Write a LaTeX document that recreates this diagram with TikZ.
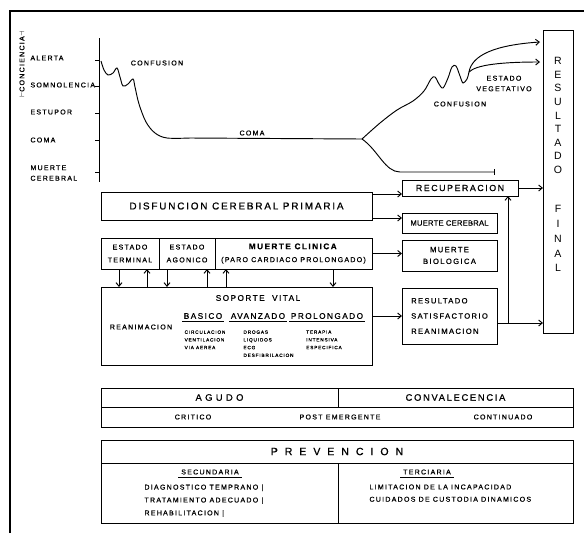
\documentclass[tikz,border=0pt]{standalone}
\usepackage{fontspec}
\setmainfont{Liberation Sans}
\newfontfamily\lab[LetterSpace=18,FakeBold=0.8]{Liberation Sans}
\newfontfamily\labtight[LetterSpace=3,FakeBold=0.8]{Liberation Sans}
\newfontfamily\labwide[LetterSpace=36,FakeBold=0.8]{Liberation Sans}
\newfontfamily\labhuge[LetterSpace=66,FakeBold=0.8]{Liberation Sans}
\usetikzlibrary{arrows.meta}
\newcommand{\pxu}{0.3mm}
\newcommand{\setpt}[2]{\fontsize{#1}{#2}\selectfont}

\begin{document}
\begin{tikzpicture}[x=\pxu,y=-\pxu,line width=0.8pt,
  >={Straight Barb[length=1.1mm,width=1.8mm]},
  cell/.style 2 args={draw,minimum width=#1*\pxu,minimum height=#2*\pxu,
    inner sep=0pt,outer sep=0pt},
  tag/.style={inner sep=0pt,font=\lab\setpt{6}{11}},
  mini/.style={inner sep=0pt,font=\lab\setpt{4}{6.6}},
  head/.style={inner sep=0pt,font=\lab\setpt{7}{9}}]
  \useasboundingbox (0,0) rectangle (584,533);
  % frame
  \draw[line width=1.2pt] (10,533) -- (10,11) -- (584,11);
  % conciencia axis
  \draw (99,38) -- (99,182);
  \foreach \y in {60,86,113,140,172}
    \draw (95,\y) -- (99,\y);
  \foreach \y/\t in {58/ALERTA,85/SOMNOLENCIA,112/ESTUPOR,140/COMA}
    \node[tag,anchor=west] (lv\y) at (30,\y) {\t};
  \node[tag,anchor=west,align=left,font=\lab\setpt{6}{9}] (lvmc) at (30,173) {MUERTE\\CEREBRAL};
  \node[tag,rotate=90] (conc) at (22,64) {$\vdash$CONCIENCIA$\dashv$};
  % curve
  \coordinate (split) at (362,139);
  \coordinate (fork) at (469,72);
  \draw plot[smooth,tension=0.55] coordinates {(101,61) (104,70) (108,75) (113,73)
    (117,68) (120,77) (123,86) (128,84) (133,79) (135,87) (139,104) (146,122)
    (155,133) (167,138) (190,138)} -- (split);
  \draw plot[smooth,tension=0.55] coordinates {(split) (380,123) (397,110) (413,101)
    (424,91) (431,79) (435,77) (439,84) (443,88) (448,78) (452,67) (456,66)
    (460,76) (463,83) (467,79) (fork)};
  \draw[->] (fork) .. controls (472,55) and (495,45) .. (540,42);
  \draw[->] (fork) .. controls (476,65) and (500,62) .. (540,62);
  \draw[-{Bar[width=1.6mm]}] (split) .. controls (378,150) and (385,172) .. (400,172) -- (495,172);
  \node[tag] (conf1) at (157,63) {CONFUSION};
  \node[tag] (coma) at (252,133) {COMA};
  \node[tag] (conf2) at (460,104) {CONFUSION};
  \node[tag,align=center,font=\lab\setpt{6}{9}] (veg) at (504,83.5) {ESTADO\\VEGETATIVO};
  % left column
  \node[cell={271}{28}] (disf) at (236.5,206) {\lab\setpt{8.5}{10}DISFUNCION CEREBRAL PRIMARIA};
  \node[cell={58}{31},align=center,font=\lab\setpt{6}{11}] (eterm) at (130,253.5) {ESTADO\\TERMINAL};
  \node[cell={56}{31},align=center,font=\lab\setpt{6}{11}] (eagon) at (187,253.5) {ESTADO\\AGONICO};
  \node[cell={157}{31},align=center,font=\lab\setpt{6}{11}] (mclin) at (293.5,253.5)
    {\textbf{\setpt{7}{11}MUERTE CLINICA}\\(PARO CARDIACO PROLONGADO)};
  \node[cell={271}{78}] (sopor) at (236.5,326) {};
  \node[head] (sv) at (258,298) {SOPORTE\ \ VITAL};
  \node[tag] (rean) at (141,327) {REANIMACION};
  \foreach \n/\x/\t in {bas/203/BASICO,avz/258/AVANZADO,prol/327/PROLONGADO}{
    \node[head] (\n) at (\x,316) {\t};
    \draw ([xshift=-1pt,yshift=-2pt]\n.south west) -- ([xshift=1pt,yshift=-2pt]\n.south east);
  }
  \node[mini,align=left,anchor=north] (basd) at (205,330) {CIRCULACION\\VENTILACION\\VIA AEREA};
  \node[mini,align=left,anchor=north west] (avzd) at (243,330) {DROGAS\\LIQUIDOS\\ECG\\DESFIBRILACION};
  \node[mini,align=left,anchor=north] (prold) at (324,330) {TERAPIA\\INTENSIVA\\ESPECIFICA};
  % vertical arrows
  \foreach \n/\dx/\tip in {eterm/-11/->,eterm/17/<-,eagon/-20/->,eagon/20/<-,mclin/-67.5/<-,mclin/39.5/->}{
    \coordinate (v) at ([xshift=\dx*\pxu]\n.south);
    \draw[\tip] (v) -- (v |- sopor.north);
  }
  % right column
  \node[cell={116}{16}] (recup) at (460,188) {\lab\setpt{7.5}{9}RECUPERACION};
  \node[cell={95}{20}] (mcer) at (449.5,223) {\labtight\setpt{6.5}{8}MUERTE CEREBRAL};
  \node[cell={95}{31},align=center,font=\lab\setpt{6.5}{10}] (mbio) at (449.5,255.5) {MUERTE\\BIOLOGICA};
  \node[cell={95}{56},align=left,font=\lab\setpt{6.5}{13}] (resat) at (449.5,316) {RESULTADO\\SATISFACTORIO\\REANIMACION};
  \node[cell={30}{303}] (final) at (558,181.5) {};
  \foreach \c [count=\i] in {R,E,S,U,L,T,A,D,O}
    \node[inner sep=0pt,font=\setpt{9}{9}] (fr\i) at (558,{61+(\i-1)*13.6}) {\c};
  \foreach \c [count=\i] in {F,I,N,A,L}
    \node[inner sep=0pt,font=\setpt{9}{9}] (ff\i) at (558,{209+(\i-1)*14.8}) {\c};
  % connectors
  \coordinate (d1) at ([yshift=-0.6mm]disf.north east);
  \coordinate (d2) at ([yshift=0.6mm]disf.south east);
  \draw[->] (d1) -- (d1 -| recup.west);
  \draw[->] (d2) -- (d2 -| mcer.west);
  \draw[->] (mclin.east) -- (mclin.east -| mbio.west);
  \draw[->] (resat.west -| sopor.east) -- (resat.west);
  \draw[->] (recup.east) -- (recup.east -| final.west);
  \coordinate (r1) at ([yshift=-2.1mm]resat.east);
  \coordinate (r2) at ([xshift=3.3mm]r1);
  \draw[->] (r1) -- (r1 -| final.west);
  \draw[->] (r2) -- (r2 |- recup.south);
  % phases
  \node[cell={237}{19}] (agudo) at (219.5,397.5) {\labwide\setpt{8}{9}AGUDO};
  \node[cell={235}{19}] (conv) at (455.5,397.5) {\lab\setpt{8}{9}CONVALECENCIA};
  \node[cell={472}{20}] (fases) at (337,417) {};
  \node[tag] (crit) at (193,417) {CRITICO};
  \node[tag] (post) at (340,417) {POST EMERGENTE};
  \node[tag] (cont) at (503,417) {CONTINUADO};
  % prevencion
  \node[cell={472}{23}] (prev) at (337,451.5) {\labhuge\setpt{9}{10}PREVENCION};
  \node[cell={237}{60}] (secu) at (219.5,493) {};
  \node[cell={235}{60}] (terc) at (455.5,493) {};
  \foreach \n/\x/\t in {sech/210/SECUNDARIA,terh/427/TERCIARIA}{
    \node[tag] (\n) at (\x,472) {\t};
    \draw ([xshift=-2pt,yshift=-2pt]\n.south west) -- ([xshift=2pt,yshift=-2pt]\n.south east);
  }
  \node[tag,align=left,anchor=north west,font=\lab\setpt{6}{11}] (secl) at (144,484)
    {DIAGNOSTICO TEMPRANO |\\TRATAMIENTO ADECUADO |\\REHABILITACION |};
  \node[tag,align=left,anchor=north west,font=\lab\setpt{6}{10.5}] (terl) at (369,484)
    {LIMITACION DE LA INCAPACIDAD\\CUIDADOS DE CUSTODIA DINAMICOS};
\end{tikzpicture}
\end{document}
